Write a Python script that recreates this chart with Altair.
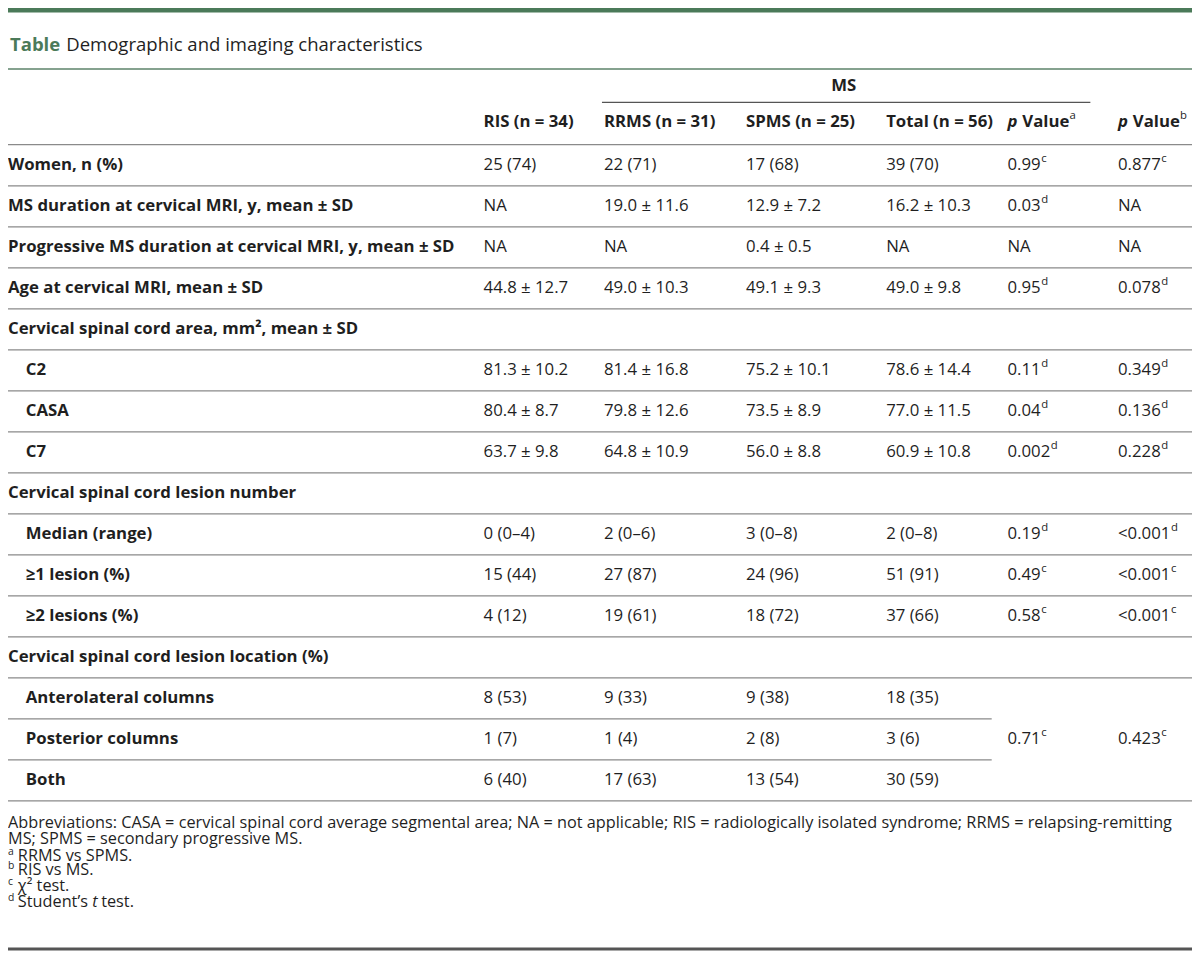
import altair as alt
import pandas as pd

# ---------------- content ----------------
title_label = "Table"
title_text = "Demographic and imaging characteristics"
group_header = "MS"
col_headers = ["RIS (n = 34)", "RRMS (n = 31)", "SPMS (n = 25)", "Total (n = 56)"]
p_header_word = "Value"
p_header_sup = ["a", "b"]

row_labels = [
    "Women, n (%)",
    "MS duration at cervical MRI, y, mean ± SD",
    "Progressive MS duration at cervical MRI, y, mean ± SD",
    "Age at cervical MRI, mean ± SD",
    "Cervical spinal cord area, mm², mean ± SD",
    "C2",
    "CASA",
    "C7",
    "Cervical spinal cord lesion number",
    "Median (range)",
    "≥1 lesion (%)",
    "≥2 lesions (%)",
    "Cervical spinal cord lesion location (%)",
    "Anterolateral columns",
    "Posterior columns",
    "Both",
]
row_indent = [0, 0, 0, 0, 0, 1, 1, 1, 0, 1, 1, 1, 0, 1, 1, 1]
ris = ["25 (74)", "NA", "NA", "44.8 ± 12.7", "", "81.3 ± 10.2", "80.4 ± 8.7", "63.7 ± 9.8",
       "", "0 (0–4)", "15 (44)", "4 (12)", "", "8 (53)", "1 (7)", "6 (40)"]
rrms = ["22 (71)", "19.0 ± 11.6", "NA", "49.0 ± 10.3", "", "81.4 ± 16.8", "79.8 ± 12.6", "64.8 ± 10.9",
        "", "2 (0–6)", "27 (87)", "19 (61)", "", "9 (33)", "1 (4)", "17 (63)"]
spms = ["17 (68)", "12.9 ± 7.2", "0.4 ± 0.5", "49.1 ± 9.3", "", "75.2 ± 10.1", "73.5 ± 8.9", "56.0 ± 8.8",
        "", "3 (0–8)", "24 (96)", "18 (72)", "", "9 (38)", "2 (8)", "13 (54)"]
total = ["39 (70)", "16.2 ± 10.3", "NA", "49.0 ± 9.8", "", "78.6 ± 14.4", "77.0 ± 11.5", "60.9 ± 10.8",
         "", "2 (0–8)", "51 (91)", "37 (66)", "", "18 (35)", "3 (6)", "30 (59)"]
p_a = ["0.99", "0.03", "NA", "0.95", "", "0.11", "0.04", "0.002", "", "0.19", "0.49", "0.58", "", "", "0.71", ""]
p_a_sup = ["c", "d", "", "d", "", "d", "d", "d", "", "d", "c", "c", "", "", "c", ""]
p_b = ["0.877", "NA", "NA", "0.078", "", "0.349", "0.136", "0.228", "", "<0.001", "<0.001", "<0.001", "", "", "0.423", ""]
p_b_sup = ["c", "", "", "d", "", "d", "d", "d", "", "d", "c", "c", "", "", "c", ""]
short_rule_rows = [13, 14]  # rows whose lower rule stops before the p-value columns

foot_lines = [
    "Abbreviations: CASA = cervical spinal cord average segmental area; NA = not applicable; RIS = radiologically isolated syndrome; RRMS = relapsing-remitting",
    "MS; SPMS = secondary progressive MS.",
]
foot_marks = ["a", "b", "c", "d"]
foot_notes = ["RRMS vs SPMS.", "RIS vs MS.", "χ² test.", "Student’s"]
foot_italic = "t"
foot_tail = "test."

# ---------------- layout (reference pixel space 1200 x 959) ----------------
REF_W, REF_H = 1200, 959
W, H = 1184, 943
S = W / REF_W
FONT = "Open Sans"
TXT = "#1f1f1f"
GREEN = "#4b7a59"
body = 17.0
supsz = 11.5
footsz = 16.5

ADV = {" ": 532, "(": 604, ")": 604, ",": 502, "-": 659, ".": 545, ":": 545, ";": 545,
       "<": 1171, "=": 1171, "±": 1171, "–": 1024, "A": 1296, "N": 1548, "V": 1255,
       "a": 1139, "l": 518, "u": 1257, "e": 1149, "S": 1120, "t": 723, "d": 1255,
       "n": 1257, "’": 356, "s": 977}
for dgt in "0123456789":
    ADV[dgt] = 1171


def tw(s, size, bold=False):
    w = sum(ADV.get(ch, 1100) for ch in s) / 2048 * size
    return w * (1.06 if bold else 1.0)


col_x = [482, 604, 748, 890, 1013, 1125]
row0, pitch = 160.0, 41.7
row_y = [row0 + pitch * i for i in range(len(row_labels))]

texts = []  # x, y, text, style key


def add(x, y, t, key):
    if t != "":
        texts.append({"x": x, "y": y, "text": t, "key": key})


# title
add(2, 38, title_label, "title_bold")
add(59, 38, title_text, "title")
# headers
add(847, 79, group_header, "bold_c")
for cx, h in zip(col_x[:4], col_headers):
    add(cx, 116, h, "bold")
for cx, sup in zip(col_x[4:], p_header_sup):
    add(cx, 116, "p", "bold_it")
    vx = cx + 15
    add(vx, 116, p_header_word, "bold")
    add(vx + tw(p_header_word, body, True) + 1, 110, sup, "sup")
# body
for i, lab in enumerate(row_labels):
    y = row_y[i]
    add(0 + 18 * row_indent[i], y, lab, "bold")
    for cx, col in zip(col_x[:4], [ris, rrms, spms, total]):
        add(cx, y, col[i], "reg")
    for cx, col, sup in [(col_x[4], p_a, p_a_sup), (col_x[5], p_b, p_b_sup)]:
        add(cx, y, col[i], "reg")
        if sup[i]:
            add(cx + tw(col[i], body) + 0.5, y - 6, sup[i], "sup")
# footnotes
fy = [829, 845, 862, 877, 893, 909]
add(0, fy[0], foot_lines[0], "foot")
add(0, fy[1], foot_lines[1], "foot")
for j, (m, note) in enumerate(zip(foot_marks, foot_notes)):
    y = fy[2 + j]
    add(0, y - 4, m, "footsup")
    add(10, y, note, "foot")
    if j == 3:
        xi = 10 + tw(note + " ", footsz)
        add(xi, y, foot_italic, "foot_it")
        add(xi + tw(foot_italic + " ", footsz) - 1, y, foot_tail, "foot")

df_text = pd.DataFrame(texts)

rules = []  # x, x2, y, key


def rule(x, x2, y, key):
    rules.append({"x": x, "x2": x2, "y": y, "key": key})


rule(0, REF_W, 2, "topbar")
rule(0, REF_W, 62, "green")
rule(602, 1097, 96, "dark")
rule(0, REF_W, 139, "gray")
for i in range(len(row_labels)):
    yl = row_y[i] + pitch / 2
    if i in short_rule_rows:
        rule(0, 997, yl, "gray")
    else:
        rule(0, REF_W, yl, "gray")
rule(0, REF_W, 957, "bottom")
df_rule = pd.DataFrame(rules)

xs = alt.Scale(domain=[0, REF_W], nice=False, zero=False)
ys = alt.Scale(domain=[0, REF_H], nice=False, zero=False, reverse=True)

text_styles = {
    "title_bold": dict(fontSize=18.8 * S, fontWeight="bold", color=GREEN),
    "title": dict(fontSize=18.8 * S, color=TXT),
    "bold": dict(fontSize=body * S, fontWeight="bold", color=TXT),
    "bold_c": dict(fontSize=body * S, fontWeight="bold", color=TXT, align="center"),
    "bold_it": dict(fontSize=body * S, fontWeight="bold", fontStyle="italic", color=TXT),
    "reg": dict(fontSize=body * S, color=TXT),
    "sup": dict(fontSize=supsz * S, color=TXT),
    "foot": dict(fontSize=footsz * S, color=TXT),
    "foot_it": dict(fontSize=footsz * S, fontStyle="italic", color=TXT),
    "footsup": dict(fontSize=10.5 * S, color=TXT),
}
rule_styles = {
    "topbar": dict(strokeWidth=5, color=GREEN),
    "green": dict(strokeWidth=1.6, color="#5d836a"),
    "dark": dict(strokeWidth=1.4, color="#555555"),
    "gray": dict(strokeWidth=1.3, color="#8a8a8a"),
    "bottom": dict(strokeWidth=3, color="#555555"),
}

layers = []
for key, st in rule_styles.items():
    sub = df_rule[df_rule["key"] == key]
    if len(sub) == 0:
        continue
    layers.append(
        alt.Chart(sub).mark_rule(**st).encode(
            x=alt.X("x:Q", scale=xs, axis=None),
            x2="x2:Q",
            y=alt.Y("y:Q", scale=ys, axis=None),
        )
    )
for key, st in text_styles.items():
    sub = df_text[df_text["key"] == key]
    if len(sub) == 0:
        continue
    kw = dict(align="left", baseline="middle", font=FONT)
    kw.update(st)
    layers.append(
        alt.Chart(sub).mark_text(**kw).encode(
            x=alt.X("x:Q", scale=xs, axis=None),
            y=alt.Y("y:Q", scale=ys, axis=None),
            text="text:N",
        )
    )

chart = (
    alt.layer(*layers)
    .properties(width=W, height=H, padding=0, autosize=alt.AutoSizeParams(type="none"))
    .configure_view(stroke=None)
)
chart.save("out.html", embed_options={"renderer": "svg", "actions": False})
